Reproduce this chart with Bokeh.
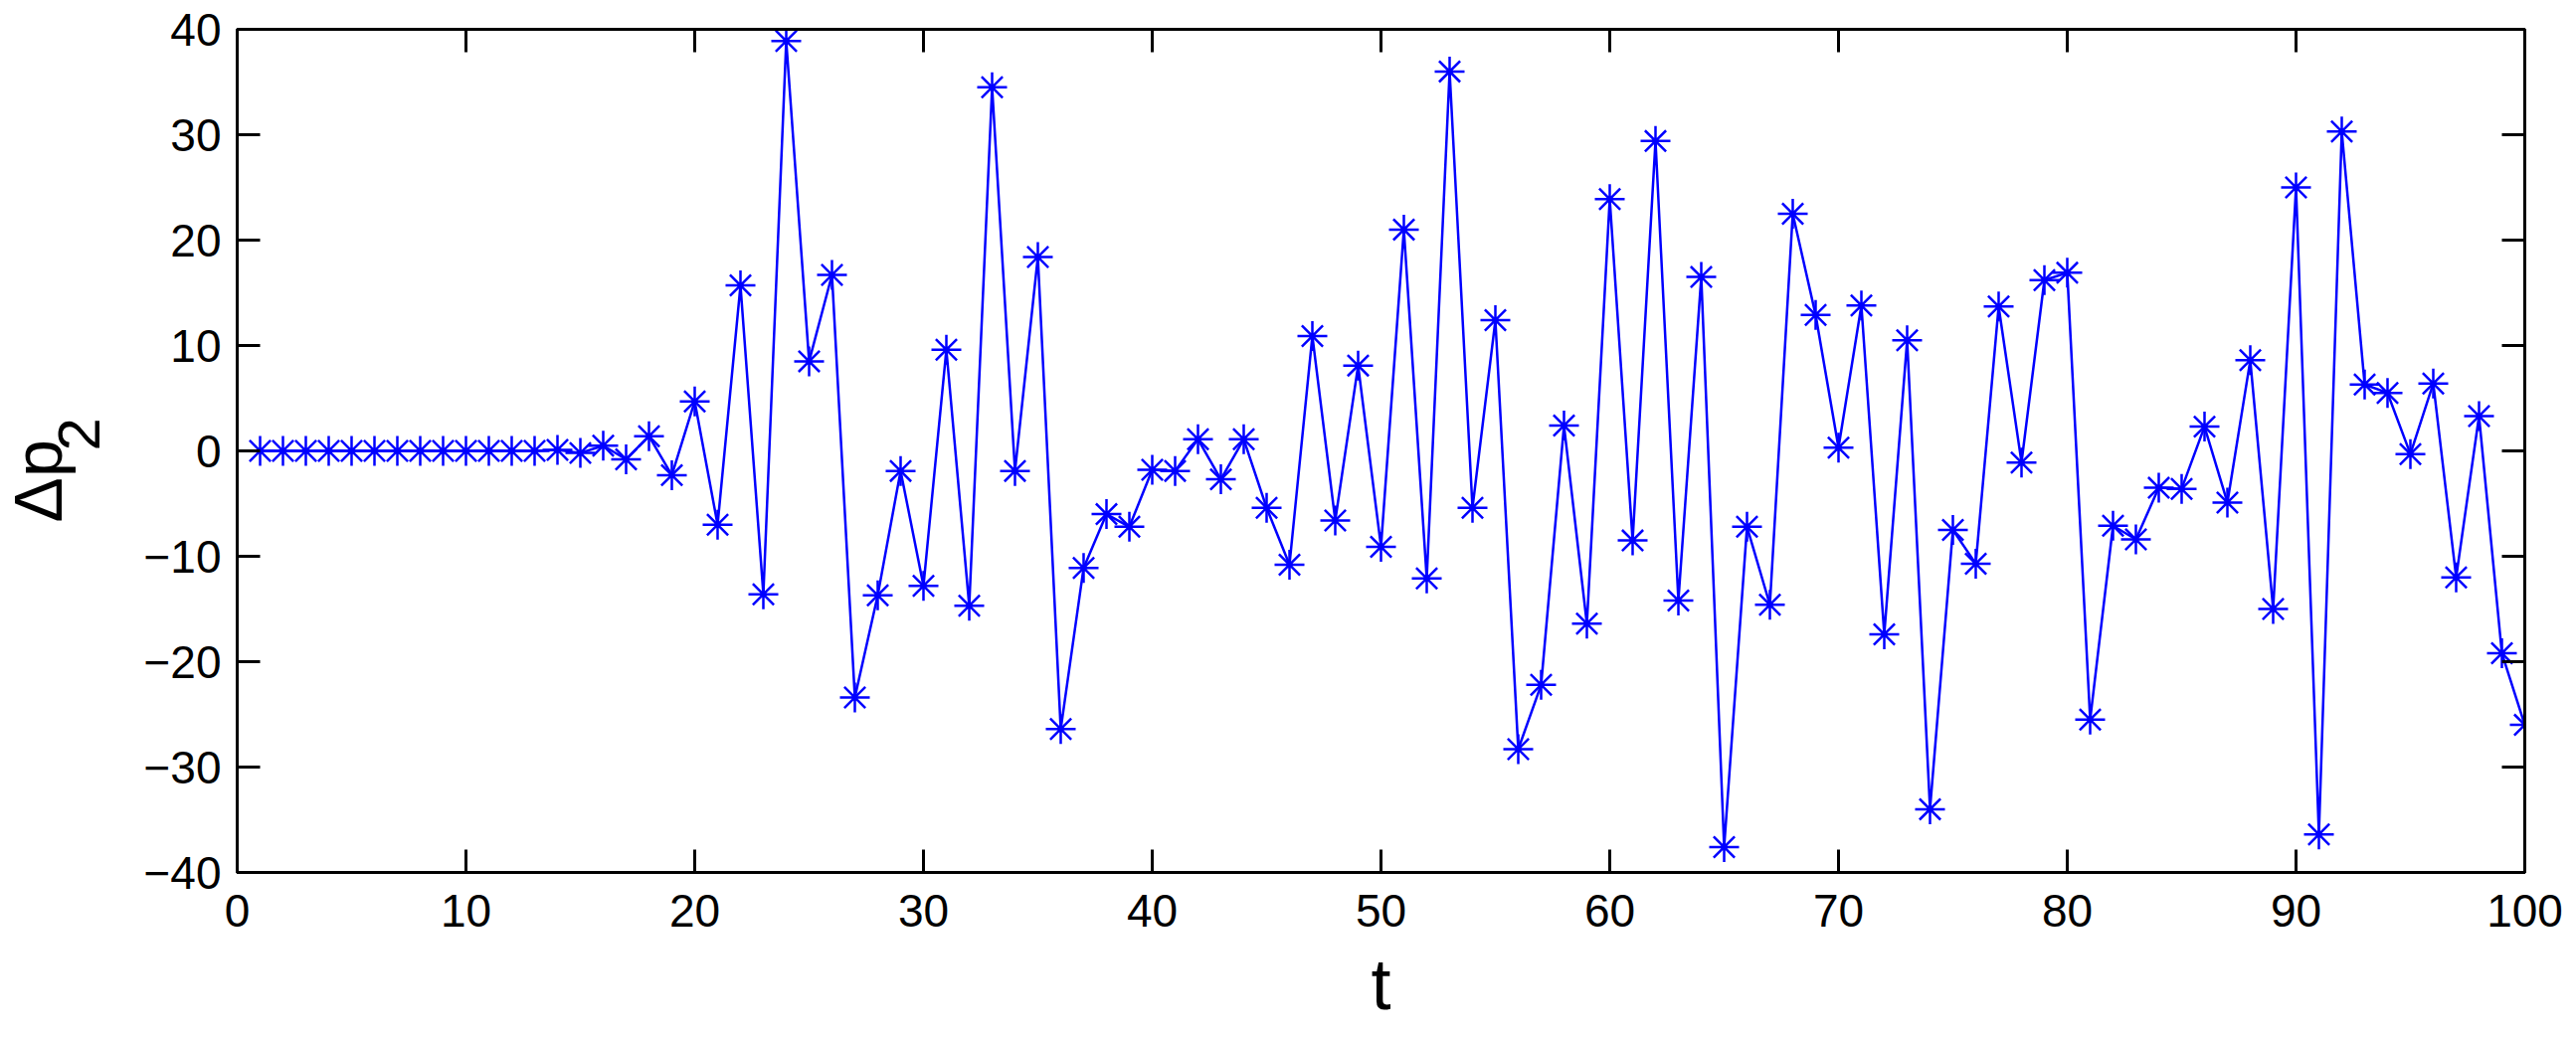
from bokeh.plotting import figure
from bokeh.models import LinearAxis, Range1d, FixedTicker, Title, CustomLabelingPolicy
from bokeh.embed import file_html
from bokeh.resources import INLINE

t = list(range(1, 101))
dp2 = [0.0] * 13 + [
    0.1, -0.2, 0.5, -0.8, 1.4, -2.3, 4.7, -7.0, 15.7, -13.6,
    38.9, 8.5, 16.7, -23.4, -13.7, -1.9, -12.8, 9.6, -14.7, 34.5,
    -1.9, 18.4, -26.4, -11.1, -6.0, -7.2, -1.8, -1.9, 1.1, -2.7,
    1.1, -5.4, -10.8, 10.9, -6.6, 8.1, -9.1, 21.0, -12.1, 36.0,
    -5.4, 12.4, -28.3, -22.2, 2.4, -16.4, 23.9, -8.5, 29.4, -14.2,
    16.5, -37.6, -7.2, -14.6, 22.5, 12.9, 0.3, 13.8, -17.4, 10.5,
    -34.0, -7.5, -10.7, 13.7, -1.1, 16.2, 16.9, -25.5, -7.1, -8.4,
    -3.5, -3.6, 2.3, -4.9, 8.6, -15.0, 25.0, -36.4, 30.3, 6.3,
    5.5, -0.3, 6.4, -12.0, 3.3, -19.2, -26.0,
]
x_ticks = [0, 10, 20, 30, 40, 50, 60, 70, 80, 90, 100]
y_ticks = [-40, -30, -20, -10, 0, 10, 20, 30, 40]
y_tick_labels = ["\u221240", "\u221230", "\u221220", "\u221210", "0", "10", "20", "30", "40"]
x_label = "t"
y_label_main = "\u0394p"
y_label_sub = "2"

FONT = "Liberation Sans"

p = figure(width=2588, height=1043, output_backend="svg", toolbar_location=None,
           x_range=Range1d(0, 100), y_range=Range1d(-40, 40),
           min_border_left=238, min_border_right=50, min_border_top=29, min_border_bottom=166)
p.grid.visible = False
p.background_fill_color = "white"
p.border_fill_color = "white"
p.outline_line_color = "black"
p.outline_line_width = 3

hide_labels = CustomLabelingPolicy(code="""
try {
  const n = indices.size;
  for (let i = 0; i < n; i++) {
    if (typeof indices.unset === 'function') { indices.unset(i) } else { indices.set(i, false) }
  }
} catch (e) {}
return indices;
""")


def style_axis(ax, labels=True):
    ax.axis_line_color = "black"
    ax.axis_line_width = 3
    ax.major_tick_in = 23
    ax.major_tick_out = 0
    ax.minor_tick_in = 0
    ax.minor_tick_out = 0
    ax.major_tick_line_width = 3
    ax.major_tick_line_color = "black"
    ax.major_label_text_font = FONT
    ax.major_label_text_color = "black"
    if labels:
        ax.major_label_text_font_size = "46px"
    else:
        ax.major_label_policy = hide_labels
        ax.major_label_standoff = 0


xb = p.xaxis[0]
yl = p.yaxis[0]
xb.ticker = FixedTicker(ticks=x_ticks)
yl.ticker = FixedTicker(ticks=y_ticks)
yl.major_label_overrides = {v: s for v, s in zip(y_ticks, y_tick_labels)}
style_axis(xb)
style_axis(yl)
xb.major_label_standoff = 22
yl.major_label_standoff = 16

xb.axis_label = x_label
xb.axis_label_text_font = FONT
xb.axis_label_text_font_style = "normal"
xb.axis_label_text_font_size = "72px"
xb.axis_label_text_color = "black"
xb.axis_label_standoff = 15

# subscript "2" of the y title: drawn as the axis label, pushed toward the top
# with leading no-break spaces (the title reads bottom-to-top)
yl.axis_label = "\u00a0" * 2 + y_label_sub
yl.axis_label_text_font = FONT
yl.axis_label_text_font_style = "normal"
yl.axis_label_text_font_size = "60px"
yl.axis_label_text_color = "black"
yl.axis_label_standoff = 28

xt = LinearAxis(ticker=FixedTicker(ticks=x_ticks))
yr = LinearAxis(ticker=FixedTicker(ticks=y_ticks))
style_axis(xt, labels=False)
style_axis(yr, labels=False)
p.add_layout(xt, "above")
p.add_layout(yr, "right")

# main part of the y title: "Δp"
ttl = Title(text=y_label_main, align="left", vertical_align="bottom", offset=352,
            text_font=FONT, text_font_size="68px", text_font_style="normal",
            text_color="black")
try:
    ttl.standoff = -64
except Exception:
    ttl.standoff = 0
p.add_layout(ttl, "left")

p.line(t, dp2, line_color="#0000ff", line_width=2.5)
p.scatter(t, dp2, marker="asterisk", size=30, line_color="#0000ff", line_width=2.5)

open("out.html", "w").write(file_html(p, INLINE))
